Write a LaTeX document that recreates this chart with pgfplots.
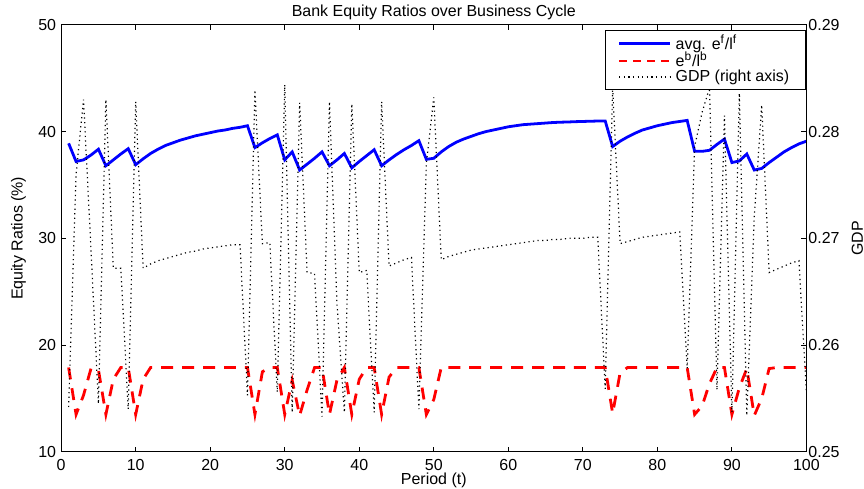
\documentclass[border=0pt]{standalone}
\usepackage{pgfplots}
\pgfplotsset{compat=1.18}
\usepackage{pgfplotstable}
\usepackage{fontspec}
\setmainfont{Liberation Sans}

% t: period, b: average equity ratio of firms' lenders, r: bank equity ratio, g: GDP
\pgfplotstableread{
t b r g
1 38.9 17.9 0.2542
2 37.2 13.5 0.2760
3 37.35 15.3 0.2830
4 37.8 17.8 0.2690
5 38.35 17.7 0.2545
6 36.8 13.5 0.2830
7 37.35 16.8 0.2672
8 37.9 17.9 0.2672
9 38.4 17.9 0.2540
10 36.9 13.5 0.2828
11 37.45 16.8 0.2672
12 37.95 17.9 0.2676
13 38.35 17.9 0.2679
14 38.7 17.9 0.2681
15 38.95 17.9 0.2683
16 39.2 17.9 0.2685
17 39.4 17.9 0.2687
18 39.6 17.9 0.2688
19 39.75 17.9 0.2690
20 39.9 17.9 0.2691
21 40.05 17.9 0.2692
22 40.15 17.9 0.2693
23 40.3 17.9 0.2694
24 40.4 17.9 0.2694
25 40.55 17.9 0.2553
26 38.5 13.5 0.2839
27 38.95 17.5 0.2695
28 39.35 17.9 0.2696
29 39.7 17.9 0.2556
30 37.35 13.5 0.2844
31 38.1 16.7 0.2537
32 36.4 13.4 0.2827
33 36.95 15.8 0.2668
34 37.5 17.9 0.2667
35 38.1 17.9 0.2533
36 36.8 13.5 0.2828
37 37.35 16.7 0.2640
38 37.95 17.9 0.2537
39 36.6 13.5 0.2826
40 37.2 16.8 0.2668
41 37.75 17.9 0.2670
42 38.3 17.9 0.2537
43 36.8 13.5 0.2828
44 37.35 17.0 0.2674
45 37.85 17.9 0.2677
46 38.3 17.9 0.2680
47 38.7 17.9 0.2682
48 39.15 17.9 0.2540
49 37.4 13.5 0.2770
50 37.5 14.9 0.2832
51 38.1 17.9 0.2680
52 38.6 17.9 0.2683
53 39.0 17.9 0.2685
54 39.3 17.9 0.2687
55 39.55 17.9 0.2689
56 39.8 17.9 0.2690
57 40.0 17.9 0.2691
58 40.15 17.9 0.2692
59 40.3 17.9 0.2693
60 40.45 17.9 0.2694
61 40.55 17.9 0.2695
62 40.65 17.9 0.2696
63 40.7 17.9 0.2697
64 40.75 17.9 0.2698
65 40.8 17.9 0.2698
66 40.85 17.9 0.2699
67 40.88 17.9 0.2699
68 40.9 17.9 0.2700
69 40.93 17.9 0.2700
70 40.95 17.9 0.2700
71 40.97 17.9 0.2701
72 40.99 17.9 0.2701
73 41.0 17.9 0.2559
74 38.6 13.6 0.2841
75 39.1 17.4 0.2695
76 39.5 17.9 0.2697
77 39.85 17.9 0.2699
78 40.15 17.9 0.2701
79 40.35 17.9 0.2702
80 40.55 17.9 0.2703
81 40.7 17.9 0.2704
82 40.85 17.9 0.2705
83 40.95 17.9 0.2706
84 41.05 17.9 0.2578
85 38.15 13.5 0.2786
86 38.15 14.3 0.2818
87 38.25 16.4 0.2841
88 38.8 17.9 0.2558
89 39.3 17.9 0.2815
90 37.1 13.5 0.2537
91 37.25 16.0 0.2836
92 37.9 17.8 0.2534
93 36.4 13.4 0.2720
94 36.55 15.0 0.2825
95 37.1 17.8 0.2668
96 37.6 17.9 0.2671
97 38.1 17.9 0.2674
98 38.5 17.9 0.2677
99 38.85 17.9 0.2679
100 39.1 17.9 0.2555
}\cycledata

\begin{document}
\begin{tikzpicture}
\pgfplotsset{
  twinaxes/.style={
    width=373.5pt, height=214pt, scale only axis,
    xmin=0, xmax=100,
    font=\fontsize{8}{9.6}\selectfont,
    tick align=inside, major tick length=2.5pt,
    axis line style={line width=0.6pt},
    every tick/.style={black, line width=0.5pt},
    /pgf/number format/assume math mode=true,
  },
}
\begin{axis}[
  twinaxes,
  ymin=10, ymax=50,
  xtick={0,10,...,100}, ytick={10,20,...,50},
  ytick pos=left, xtick pos=both,
  title={Bank Equity Ratios over Business Cycle},
  every axis title shift=0pt,
  title style={at={([yshift=0.2pt]rel axis cs:0.5,1)}, anchor=south,
    inner xsep=0pt, inner ysep=2.3pt},
  xlabel={Period (t)}, ylabel={Equity Ratios (\%)},
  xlabel style={at={([yshift=-10pt]rel axis cs:0.5,0)}, anchor=north,
    inner xsep=0pt, inner ysep=0.3pt},
  ylabel style={at={([xshift=-12pt]rel axis cs:0,0.5)}, anchor=south,
    inner xsep=0pt, inner ysep=5.5pt},
  yticklabel style={xshift=1pt},
]
\addplot[blue, line width=1.4pt] table[x=t, y=b]{\cycledata};
\addplot[red, line width=1.4pt, dash pattern=on 6pt off 4.5pt] table[x=t, y=r]{\cycledata};
\end{axis}

\begin{axis}[
  twinaxes,
  ymin=0.25, ymax=0.29,
  axis x line=none, axis y line*=right,
  ytick={0.25,0.26,0.27,0.28,0.29},
  scaled y ticks=false,
  yticklabel style={xshift=-2.5pt, /pgf/number format/.cd, fixed, precision=2, fixed zerofill},
  ylabel={GDP},
  ylabel style={at={([xshift=22pt]rel axis cs:1,0.5)}, anchor=north,
    inner xsep=0pt, inner ysep=0.5pt},
  legend cell align=left,
  legend style={at={(0.999,0.989)}, anchor=north east, draw=black,
    line width=0.5pt, fill=white, inner xsep=6pt, inner ysep=0.5pt, row sep=-4pt,
    font=\fontsize{8}{9.6}\selectfont},
  legend image code/.code={\draw[#1] (0cm,0cm) -- (0.9cm,0cm);},
]
\addlegendimage{blue, line width=1.4pt}
\addlegendentry{avg. e\textsuperscript{f}/l\textsuperscript{f}}
\addlegendimage{red, line width=1.4pt, dash pattern=on 4pt off 3pt}
\addlegendentry{e\textsuperscript{b}/l\textsuperscript{b}}
\addplot[black, line width=0.6pt, dash pattern=on 0.6pt off 1.7pt] table[x=t, y=g]{\cycledata};
\addlegendentry{GDP (right axis)}
\end{axis}
\end{tikzpicture}
\end{document}
